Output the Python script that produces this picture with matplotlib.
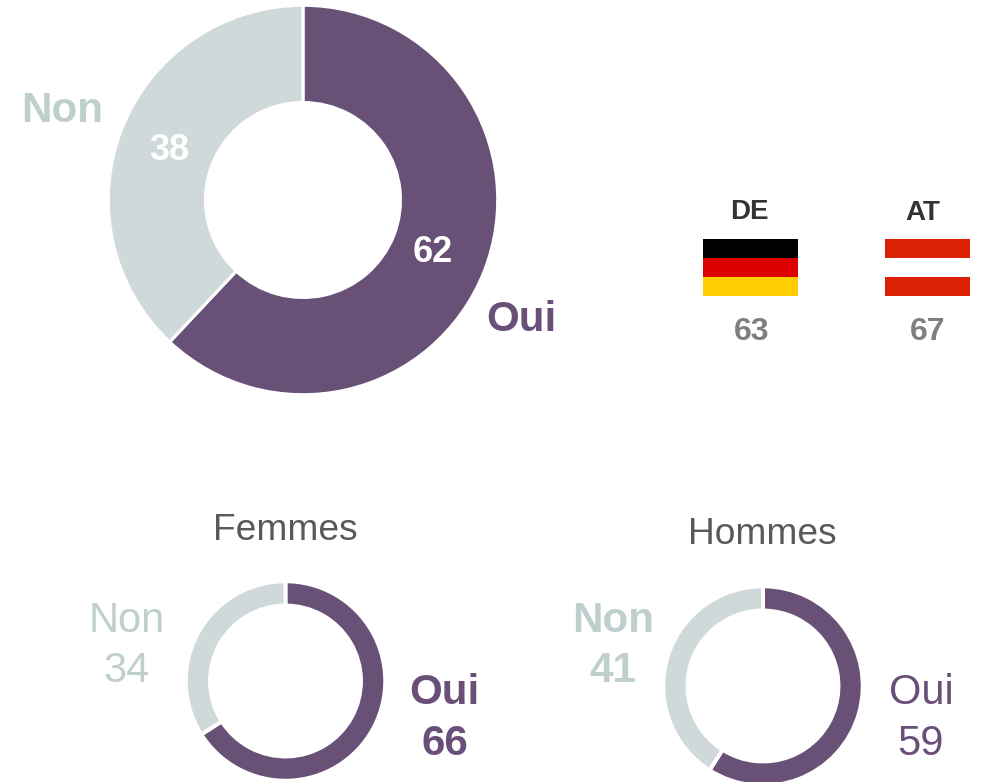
import matplotlib
matplotlib.use("Agg")
import matplotlib.pyplot as plt
from matplotlib.patches import Rectangle

plt.rcParams['font.family'] = ['Liberation Sans', 'DejaVu Sans']

W, H = 984, 782
PURPLE = '#685076'
PURPLE_TEXT = '#6a5079'
GREY = '#cfd9da'
GREY_TEXT = '#bfcfcd'

categories = ['Oui', 'Non']
total_values = [62, 38]
femmes_values = [66, 34]
hommes_values = [59, 41]
panel_titles = ['Femmes', 'Hommes']
country_labels = ['DE', 'AT']
country_values = [63, 67]

fig = plt.figure(figsize=(W / 100, H / 100), dpi=100, facecolor='white')
canvas = fig.add_axes([0, 0, 1, 1])
canvas.set_xlim(0, W)
canvas.set_ylim(H, 0)
canvas.axis('off')
canvas.set_zorder(10)


def donut(values, cx, cy, r, inner, lw):
    pad = 1.1
    R = r * pad
    ax = fig.add_axes([(cx - R) / W, 1 - (cy + R) / H, 2 * R / W, 2 * R / H])
    ax.pie(values, colors=[PURPLE, GREY], startangle=90, counterclock=False,
           radius=1, wedgeprops=dict(width=1 - inner / r, edgecolor='white', linewidth=lw))
    ax.set_xlim(-pad, pad)
    ax.set_ylim(-pad, pad)
    ax.set_aspect('equal')
    ax.axis('off')
    ax.patch.set_alpha(0)


donut(total_values, 303, 200, 194.7, 97.5, 2.2)
donut(femmes_values, 285.5, 681, 99.7, 75.5, 2.8)
donut(hommes_values, 763, 686, 99.7, 75.5, 2.8)


def label(x, y, s, size, color, weight='normal'):
    canvas.text(x, y, s, fontsize=size, color=color, fontweight=weight,
                ha='center', va='center_baseline', zorder=5)


# Main donut
label(62.5, 106.5, categories[1], 30.3, GREY_TEXT, 'bold')
label(521.5, 315.5, categories[0], 30.3, PURPLE_TEXT, 'bold')
label(169.5, 146.5, str(total_values[1]), 26, 'white', 'bold')
label(433, 248.5, str(total_values[0]), 26, 'white', 'bold')

# Femmes
label(285.5, 526.5, panel_titles[0], 26.7, '#595959')
label(126.5, 616.5, categories[1], 30, GREY_TEXT)
label(126.5, 666.5, str(femmes_values[1]), 30, GREY_TEXT)
label(444.5, 688.5, categories[0], 30.3, PURPLE_TEXT, 'bold')
label(444.5, 739.5, str(femmes_values[0]), 30.3, PURPLE_TEXT, 'bold')

# Hommes
label(762.5, 530.5, panel_titles[1], 26.7, '#595959')
label(613.5, 616.5, categories[1], 30.3, GREY_TEXT, 'bold')
label(612.5, 666.5, str(hommes_values[1]), 30.3, GREY_TEXT, 'bold')
label(921.5, 688.5, categories[0], 30, PURPLE_TEXT)
label(921, 739.5, str(hommes_values[0]), 30, PURPLE_TEXT)

# Countries
label(749.5, 209, country_labels[0], 20, '#333333', 'bold')
label(923, 210, country_labels[1], 20, '#333333', 'bold')
label(751.5, 328, str(country_values[0]), 23, '#7f7f7f', 'bold')
label(927.5, 328, str(country_values[1]), 23, '#7f7f7f', 'bold')


def flag(x0, x1, colors):
    y0, y1 = 239, 296
    h = (y1 - y0) / 3
    for i, c in enumerate(colors):
        canvas.add_patch(Rectangle((x0, y0 + i * h), x1 - x0, h, facecolor=c,
                                   edgecolor='none'))


flag(703, 798, ['#000000', '#dd0000', '#ffce00'])
flag(885, 970, ['#da2106', '#ffffff', '#da2106'])

fig.savefig('out.png', dpi=100, facecolor='white')
